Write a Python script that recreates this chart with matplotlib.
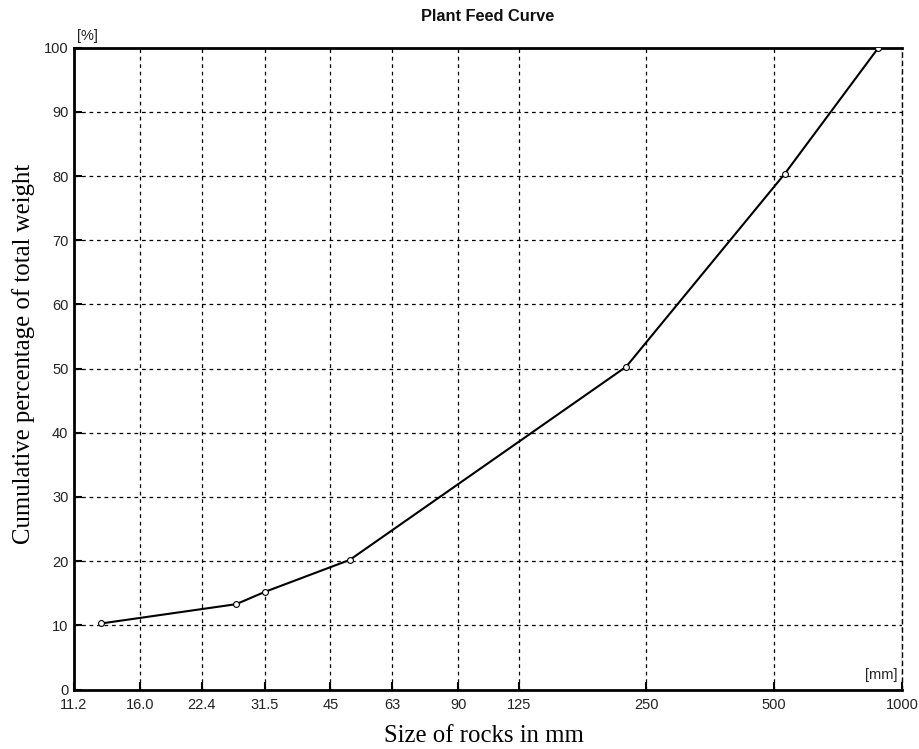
import matplotlib
matplotlib.use("Agg")
import matplotlib.pyplot as plt
from matplotlib.ticker import FixedLocator, FixedFormatter, NullLocator

# data
size_mm = [13, 27, 31.5, 50, 224, 530, 880]
cum_pct = [10.3, 13.3, 15.2, 20.2, 50.3, 80.4, 100.0]

x_ticks = [11.2, 16.0, 22.4, 31.5, 45, 63, 90, 125, 250, 500, 1000]
x_labels = ["11.2", "16.0", "22.4", "31.5", "45", "63", "90", "125", "250", "500", "1000"]
y_ticks = list(range(0, 101, 10))

fig = plt.figure(figsize=(9.19, 7.49), dpi=100)
ax = fig.add_axes([0.0805, 0.0794, 0.901, 0.8569])

ax.plot(size_mm, cum_pct, color="black", lw=1.5, marker="o", ms=4.2,
        mfc="white", mec="black", mew=0.8, zorder=3)

ax.set_xscale("log")
ax.set_xlim(11.2, 1000)
ax.set_ylim(0, 100)
ax.xaxis.set_major_locator(FixedLocator(x_ticks))
ax.xaxis.set_major_formatter(FixedFormatter(x_labels))
ax.xaxis.set_minor_locator(NullLocator())
ax.set_yticks(y_ticks)

tick_font = "Liberation Sans"
ax.tick_params(axis="both", direction="in", length=6, width=1.5, color="black",
               labelsize=10.5, labelcolor="#222222")
ax.tick_params(axis="y", pad=4)
ax.tick_params(axis="x", pad=6)
for lab in ax.get_xticklabels() + ax.get_yticklabels():
    lab.set_fontfamily(tick_font)

ax.grid(True, color="black", lw=0.9, linestyle=(0, (3, 3)))

for side in ["left", "bottom", "top"]:
    ax.spines[side].set_linewidth(2)
ax.spines["right"].set_linewidth(1)
ax.spines["right"].set_linestyle((0, (3, 3)))

ax.set_title("Plant Feed Curve", fontfamily=tick_font, fontweight="bold",
             fontsize=11.8, color="#111111", pad=19)
ax.text(0.004, 1.008, "[%]", transform=ax.transAxes, fontfamily=tick_font,
        fontsize=10.5, color="#222222", ha="left", va="bottom")
ax.text(0.994, 0.012, "[mm]", transform=ax.transAxes, fontfamily=tick_font,
        fontsize=10.5, color="#222222", ha="right", va="bottom")

ax.set_xlabel("Size of rocks in mm", fontfamily="Liberation Serif", fontsize=17.8)
ax.set_ylabel("Cumulative percentage of total weight", fontfamily="Liberation Serif",
              fontsize=17.8)
ax.xaxis.set_label_coords(0.495, -0.056)
ax.yaxis.set_label_coords(-0.047, 0.523)

fig.savefig("out.png", dpi=100)
